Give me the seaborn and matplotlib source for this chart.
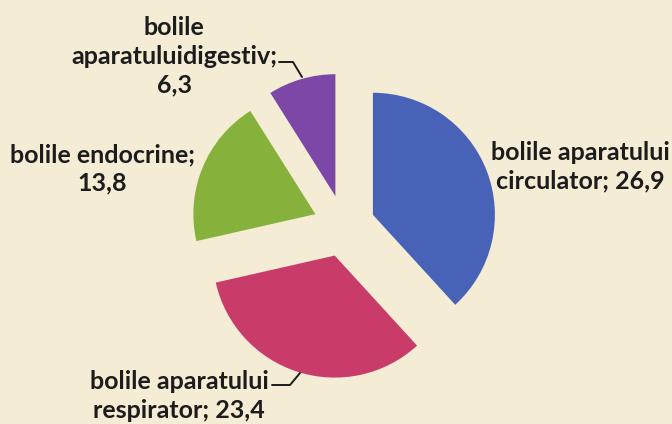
import matplotlib
matplotlib.use('Agg')
import matplotlib.pyplot as plt
import seaborn as sns

categories = ['bolile aparatului\ncirculator', 'bolile aparatului\nrespirator',
              'bolile endocrine', 'bolile\naparatuluidigestiv']
values = [26.9, 23.4, 13.8, 6.3]
colors = ['#4862b8', '#c93c6a', '#86b23c', '#7c47a7']

sns.set_style('white')
plt.rcParams['font.family'] = ['Lato', 'DejaVu Sans']

bg = '#f4ecd4'
fig = plt.figure(figsize=(6.72, 4.24), dpi=100, facecolor=bg)
ax = fig.add_axes([0, 0, 1, 1])
ax.set_facecolor(bg)

pal = sns.color_palette(colors)
# explode is in data units here (pixels), radius 122
ax.pie(values, colors=pal, startangle=90, counterclock=False,
       explode=[31] * len(values), center=(344, 198), radius=122,
       wedgeprops=dict(linewidth=0), frame=True)
ax.set_xlim(0, 672)
ax.set_ylim(0, 424)
ax.axis('off')


def fmt(v):
    return f"{v:.1f}".replace('.', ',')


# label positions (text centre)
label_pos = [(580, 257), (179, 28), (102, 255), (174, 368)]
labels = [f"{categories[0]}; {fmt(values[0])}",
          f"{categories[1]}; {fmt(values[1])}",
          f"{categories[2]};\n{fmt(values[2])}",
          f"{categories[3]};\n{fmt(values[3])}"]
for (x, y), lab in zip(label_pos, labels):
    ax.text(x, y, lab, ha='center', va='center', fontsize=18, fontweight='bold',
            color='#1c1c1c', linespacing=1.3)

# leader lines
ax.plot([279, 293, 302], [362, 362, 347], color='#1c1c1c', lw=1.4)
ax.plot([272, 290, 300], [39, 39, 51], color='#1c1c1c', lw=1.4)

fig.savefig('out.png', dpi=100, facecolor=bg)
